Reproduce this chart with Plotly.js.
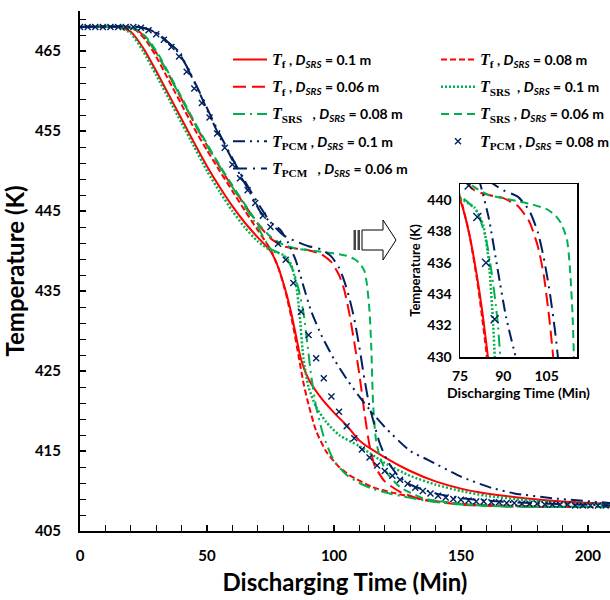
<!DOCTYPE html>
<html>
<head>
<meta charset="utf-8">
<script src="https://cdn.plot.ly/plotly-3.0.1.min.js"></script>
<style>html,body{margin:0;padding:0;background:#fff}#chart{width:610px;height:600px}</style>
</head>
<body>
<div id="chart"></div>
<script>
// ---- Data ----
const tTf010 = [0,15,20,25,30,35,40,45,50,55,60,65,70,75,78,81,83,85,87,90,95,100,105,110,120,130,140,150,160,175,190,209];
const TTf010 = [468,468,467.4,465.3,462.5,459.5,456.5,453.5,450.6,448,445.6,443.5,441.7,440,438,435,432.5,429.5,426.5,424,421.6,419.8,418.2,416.3,414.2,412.5,411.2,410.3,409.7,409.1,408.7,408.4];

const tTf008 = [0,18,22,26,30,35,40,45,50,55,60,65,70,75,78,81,84,86,88,90,93,97,102,106,110,115,123,136,150,165,185,209];
const TTf008 = [468,468,467.6,466.3,464.3,461.3,458.3,455.3,452.6,450,447.5,445,442.6,440.2,438,434.8,430.5,427,423.5,420.8,417.5,414.9,413,412,411.3,410.5,409.8,408.9,408.4,408.2,408.05,408];

const tTf006 = [0,19,23,27,31,35,40,45,50,55,60,65,70,75,80,85,90,95,99,102,104,106,108,110,112,114,116,120,126,135,150,165,185,209];
const TTf006 = [468,468,467.5,466.2,464.3,462,459,456,453.2,450.5,448,445.7,443.4,441.6,440.6,440.3,440.1,439.6,438.6,437,435.2,432.3,428.6,424.6,419.8,415.7,413.2,411.2,409.9,408.9,408.3,408.1,408,408];

const tSRS010 = [0,15,20,25,30,35,40,45,50,55,60,65,70,75,80,83,85,86.5,88,90,93,97,102,110,120,130,140,150,160,175,190,209];
const TSRS010 = [468,468,467.2,464.9,462,459,456,453,450,447.4,445,442.9,441.2,440.1,439.5,438.4,436,432,426.5,423,420.5,418.6,417,415.6,413.5,411.9,410.8,410,409.4,408.9,408.5,408.3];

const tSRS008 = [0,18,22,26,30,35,40,45,50,55,60,65,70,75,78,81,84,86,88,89.5,91,93,96,100,105,110,115,123,136,150,165,185,209];
const TSRS008 = [468,468,467.7,466.6,464.8,462,459,456,453.2,450.6,448,445.5,443,440.3,439.8,439.2,437.5,435.3,432.3,428.5,424.5,420.5,416.8,413.8,412,411,410.3,409.6,408.8,408.3,408.1,408,408];

const tSRS006 = [0,19,23,27,31,35,40,45,50,55,60,65,70,75,80,85,90,95,100,105,108,110,112,113,114,114.7,115.4,116.5,118,121,126,135,150,165,185,209];
const TSRS006 = [468,468,467.6,466.4,464.5,462.2,459.2,456.2,453.4,450.7,448.2,445.8,443.5,441.8,440.8,440.3,440.1,439.9,439.7,439.4,439,438.5,437.5,435.8,432.5,428,421,416.5,414.3,412.2,410.5,409.1,408.4,408.1,408,408];

const tPCM010 = [0,23,27,31,35,39,43,47,51,55,59,63,67,71,75,79,82,85,88,91,95,100,105,110,115,120,130,137,150,162,171,186,209];
const TPCM010 = [468,468,467.7,467.1,466,464.9,462.4,459.8,457,454.3,452,449.5,447.3,444.9,443.6,442.6,441,438.8,435.6,432.5,429.5,426.5,424,421.8,419.8,418,415,413.9,411.8,410.4,409.7,409.1,408.5];

const tPCM008 = [0,3,6,9,12,15,18,21,24,27,30,33,36,39,42,45,48,51,54,57,60,63,66,69,72,75,78,81,84,87,90,93,96,99,102,105,108,111,114,117,120,123,126,129,132,135,138,141,144,147,150,153,156,159,162,165,168,171,174,177,180,183,186,189,192,195,198,201,204,207];
const TPCM008 = [468,468,468,468,468,468,468,468,467.9,467.6,467.1,466.4,465.5,464.3,462.4,460.3,458.5,456.7,454.7,452.9,450.8,449.1,447.6,446,444.4,443,440.9,438.9,436,432.4,429.5,426.6,424.1,421.8,419.9,418.1,416.6,415.2,414.2,413.2,412.5,411.9,411.4,410.9,410.4,410,409.7,409.4,409.2,409,408.9,408.8,408.7,408.7,408.6,408.6,408.5,408.5,408.4,408.4,408.4,408.3,408.3,408.3,408.3,408.2,408.2,408.2,408.2,408.2];

const tPCM006 = [0,23,27,31,35,39,43,47,51,55,59,63,67,71,75,80,85,90,95,99,102,104,106,108,110,112,114,116,118,121,125,130,140,150,165,185,209];
const TPCM006 = [468,468,467.7,467.1,466,464.7,462.5,459.9,457.2,454.6,452.2,449.8,447.6,445.5,443.6,442,441.2,440.6,440.2,439.3,437.9,436.3,434.2,431.5,428,424,420.6,418.2,416,413.8,412,410.8,409.7,409.1,408.7,408.4,408.2];

const xTicksMain = [0,50,100,150,200];
const yTicksMain = [405,415,425,435,445,455,465];
const xTicksInset = [75,90,105];
const yTicksInset = [430,432,434,436,438,440];

// ---- Styling ----
const RED = '#FF0000', GREEN = '#00B050', NAVY = '#002060';
const SERIF = 'font-family:Liberation Serif;font-size:16px';
function nm(sub, d, extra) {
  return '<span style="' + SERIF + '"><i>T</i><sub>' + sub + '</sub></span>' + (extra||'') + ' , <i>D<sub>SRS</sub></i> = ' + d + ' m';
}
const series = [
  {t:tTf010, T:TTf010, name:nm('f','0.1'), color:RED, dash:'solid', w:2, lg:'legend'},
  {t:tTf008, T:TTf008, name:nm('f','0.08'), color:RED, dash:'6px,3px', w:2, lg:'legend2'},
  {t:tTf006, T:TTf006, name:nm('f','0.06'), color:RED, dash:'13px,6px', w:2, lg:'legend'},
  {t:tSRS010, T:TSRS010, name:nm('SRS','0.1',' '), color:GREEN, dash:'2px,2px', w:2.5, lg:'legend2'},
  {t:tSRS008, T:TSRS008, name:nm('SRS','0.08','  '), color:GREEN, dash:'12px,5px,2px,5px', w:2, lg:'legend'},
  {t:tSRS006, T:TSRS006, name:nm('SRS','0.06'), color:GREEN, dash:'8px,5px', w:2, lg:'legend2'},
  {t:tPCM010, T:TPCM010, name:nm('PCM','0.1'), color:NAVY, dash:'12px,5px,2px,5px,2px,5px', w:2, lg:'legend'},
  {t:tPCM008, T:TPCM008, name:nm('PCM','0.08'), color:NAVY, marker:true, lg:'legend2'},
  {t:tPCM006, T:TPCM006, name:nm('PCM','0.06','  '), color:NAVY, dash:'14px,6px,2px,6px', w:2, lg:'legend'}
];

const traces = [];
series.forEach((s, i) => {
  ['main','inset'].forEach(k => {
    const tr = {x:s.t, y:s.T, name:s.name, showlegend:k==='main', hoverinfo:'skip',
      legend:s.lg, legendgroup:'g'+i,
      xaxis: k==='main' ? 'x' : 'x2', yaxis: k==='main' ? 'y' : 'y2'};
    if (s.marker) {
      tr.mode = 'markers';
      tr.marker = {symbol:'x-thin', size: k==='main'?6:8, color:s.color, line:{color:s.color, width:1.4}};
    } else {
      tr.mode = 'lines';
      tr.line = {color:s.color, width:s.w, dash:s.dash, shape:'spline', smoothing:0.6};
    }
    traces.push(tr);
  });
});

// pixel -> paper helpers (plot area: x 80..610, y 11..531)
const L=80, R=610, TOP=11, BOT=531;
const px = v => (v-L)/(R-L);
const py = v => (BOT-v)/(BOT-TOP);

const tickFont = {family:'Lato, sans-serif', size:15, color:'#000', weight:700};
const legendFont = {family:'Lato, sans-serif', size:14, weight:700, color:'#000'};
const layout = {
  width:610, height:600,
  margin:{l:L, r:0, t:TOP, b:600-BOT, autoexpand:false},
  paper_bgcolor:'#fff', plot_bgcolor:'rgba(0,0,0,0)',
  showlegend:true,
  font:{family:'Lato, sans-serif', color:'#000'},
  xaxis:{range:[0,208.7], tickvals:xTicksMain, ticks:'inside', ticklen:6, tickwidth:1.2, tickcolor:'#000',
    minor:{dtick:10, tick0:0, ticks:'inside', ticklen:6, tickwidth:1, tickcolor:'#000'},
    showline:true, linecolor:'#000', linewidth:2, showgrid:false, zeroline:false, automargin:false,
    tickfont:tickFont, ticklabelstandoff:10,
    title:{text:'Discharging Time (Min)', font:{family:'Lato, sans-serif', size:24, weight:700}, standoff:11}},
  yaxis:{range:[405,470], tickvals:yTicksMain, ticks:'inside', ticklen:6, tickwidth:1.2, tickcolor:'#000',
    minor:{dtick:2, tick0:405, ticks:'inside', ticklen:6, tickwidth:1, tickcolor:'#000'},
    showline:true, linecolor:'#000', linewidth:2, showgrid:false, zeroline:false, automargin:false,
    tickfont:tickFont, ticklabelstandoff:14,
    title:{text:'Temperature (K)', font:{family:'Lato, sans-serif', size:24, weight:700}, standoff:11}},
  xaxis2:{domain:[px(460), px(577)], anchor:'y2', range:[75,115.5], tickvals:xTicksInset, ticks:'',
    showline:true, mirror:true, linecolor:'#000', linewidth:1.5, showgrid:false, zeroline:false, automargin:false,
    tickfont:{family:'Lato, sans-serif', size:14, weight:700}, ticklabelstandoff:6,
    title:{text:'Discharging Time (Min)', font:{family:'Lato, sans-serif', size:14, weight:700}, standoff:4}},
  yaxis2:{domain:[py(357), py(184)], anchor:'x2', range:[430,441], tickvals:yTicksInset, ticks:'',
    showline:true, mirror:true, linecolor:'#000', linewidth:1.5, showgrid:false, zeroline:false, automargin:false,
    tickfont:{family:'Lato, sans-serif', size:14, weight:700}, ticklabelstandoff:4,
    title:{text:'Temperature (K)', font:{family:'Lato, sans-serif', size:13, weight:700}, standoff:4}},
  legend:{orientation:'v', x:px(228), y:py(44), xanchor:'left', yanchor:'top', traceorder:'grouped',
    itemwidth:34, bgcolor:'rgba(0,0,0,0)', font:legendFont, tracegroupgap:6},
  legend2:{orientation:'v', x:px(436), y:py(44), xanchor:'left', yanchor:'top', traceorder:'grouped',
    itemwidth:34, bgcolor:'rgba(0,0,0,0)', font:legendFont, tracegroupgap:6},
  shapes:[
    {type:'path', xref:'paper', yref:'paper', layer:'above',
     path:`M ${px(362)},${py(230)} L ${px(383)},${py(230)} L ${px(383)},${py(220)} L ${px(396)},${py(240)} L ${px(383)},${py(260)} L ${px(383)},${py(250)} L ${px(362)},${py(250)} Z`,
     fillcolor:'#fff', line:{color:'#000', width:1}},
    {type:'rect', xref:'paper', yref:'paper', x0:px(353.5), x1:px(356), y0:py(250), y1:py(230), fillcolor:'#444', line:{width:0}},
    {type:'rect', xref:'paper', yref:'paper', x0:px(357.5), x1:px(360), y0:py(250), y1:py(230), fillcolor:'#444', line:{width:0}}
  ]
};

Plotly.newPlot('chart', traces, layout, {displayModeBar:false, staticPlot:true});
</script>
</body>
</html>
